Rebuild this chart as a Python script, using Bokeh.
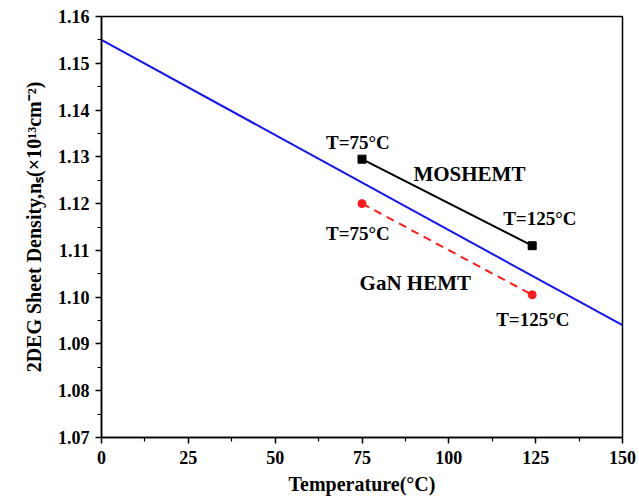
from bokeh.plotting import figure
from bokeh.models import FixedTicker, Range1d, Label
from bokeh.embed import file_html
from bokeh.resources import INLINE

# data
model_temp = [0, 150]
model_density = [1.155, 1.094]
moshemt_temp = [75, 124]
moshemt_density = [1.1295, 1.1110]
gan_temp = [75, 124]
gan_density = [1.1200, 1.1005]

x_ticks = [0, 25, 50, 75, 100, 125, 150]
x_tick_labels = ["0", "25", "50", "75", "100", "125", "150"]
y_ticks = [1.07, 1.08, 1.09, 1.10, 1.11, 1.12, 1.13, 1.14, 1.15, 1.16]
y_tick_labels = ["1.07", "1.08", "1.09", "1.10", "1.11", "1.12", "1.13", "1.14", "1.15", "1.16"]
x_minor = [12.5, 37.5, 62.5, 87.5, 112.5, 137.5]
y_minor = [1.075, 1.085, 1.095, 1.105, 1.115, 1.125, 1.135, 1.145, 1.155]

annotations = [
    (75, 1.1295, "T=75°C"),
    (124, 1.1110, "T=125°C"),
    (75, 1.1200, "T=75°C"),
    (124, 1.1005, "T=125°C"),
]

FONT = "Liberation Serif"

p = figure(width=639, height=498, output_backend="svg", toolbar_location=None,
           x_range=Range1d(0, 150), y_range=Range1d(1.07, 1.16),
           min_border_left=101, min_border_right=17, min_border_top=16, min_border_bottom=61)
p.background_fill_color = "white"
p.border_fill_color = "white"
p.grid.visible = False
p.outline_line_color = "black"
p.outline_line_width = 1.5

p.xaxis.ticker = FixedTicker(ticks=x_ticks, minor_ticks=x_minor)
p.yaxis.ticker = FixedTicker(ticks=y_ticks, minor_ticks=y_minor)
p.xaxis.major_label_overrides = {t: l for t, l in zip(x_ticks, x_tick_labels)}
p.yaxis.major_label_overrides = {t: l for t, l in zip(y_ticks, y_tick_labels)}

for ax in (p.xaxis, p.yaxis):
    ax.axis_line_color = "black"
    ax.axis_line_width = 1.5
    ax.major_tick_line_color = "black"
    ax.major_tick_line_width = 1.5
    ax.minor_tick_line_color = "black"
    ax.minor_tick_line_width = 1.2
    ax.major_tick_out = 6
    ax.major_tick_in = 0
    ax.minor_tick_out = 4
    ax.minor_tick_in = 0
    ax.major_label_text_font = FONT
    ax.major_label_text_font_style = "bold"
    ax.major_label_text_font_size = "18px"
    ax.major_label_text_color = "black"
    ax.axis_label_text_font = FONT
    ax.axis_label_text_font_style = "bold"
    ax.axis_label_text_font_size = "20px"
    ax.axis_label_text_color = "black"

p.xaxis.axis_label = "Temperature(°C)"
p.xaxis.axis_label_standoff = 6
p.xaxis.major_label_standoff = 7
p.yaxis.axis_label = "2DEG Sheet Density,nₛ(×10¹³cm⁻²)"
p.yaxis.axis_label_standoff = 10
p.yaxis.major_label_standoff = 6

p.line(model_temp, model_density, line_color="#1414f5", line_width=2)
p.line(moshemt_temp, moshemt_density, line_color="black", line_width=2)
p.scatter(moshemt_temp, moshemt_density, marker="square", size=8, color="black")
p.line(gan_temp, gan_density, line_color="#ff1a1a", line_width=2, line_dash="8 6")
p.scatter(gan_temp, gan_density, marker="circle", size=8, color="#ff1a1a")

label_kw = dict(text_font=FONT, text_font_style="bold", text_font_size="19px",
                text_color="black", text_baseline="middle")
# offsets in screen px relative to data points
offsets = [(-36, 17), (-29, 27), (-36, -30), (-36, -25)]
for (x, y, t), (dx, dy) in zip(annotations, offsets):
    p.add_layout(Label(x=x, y=y, text=t, x_offset=dx, y_offset=dy, **label_kw))

big_kw = dict(label_kw, text_font_size="21px")
p.add_layout(Label(x=89.8, y=1.1264, text="MOSHEMT", **big_kw))
p.add_layout(Label(x=74.3, y=1.1031, text="GaN HEMT", **big_kw))

open("out.html", "w").write(file_html(p, INLINE))
